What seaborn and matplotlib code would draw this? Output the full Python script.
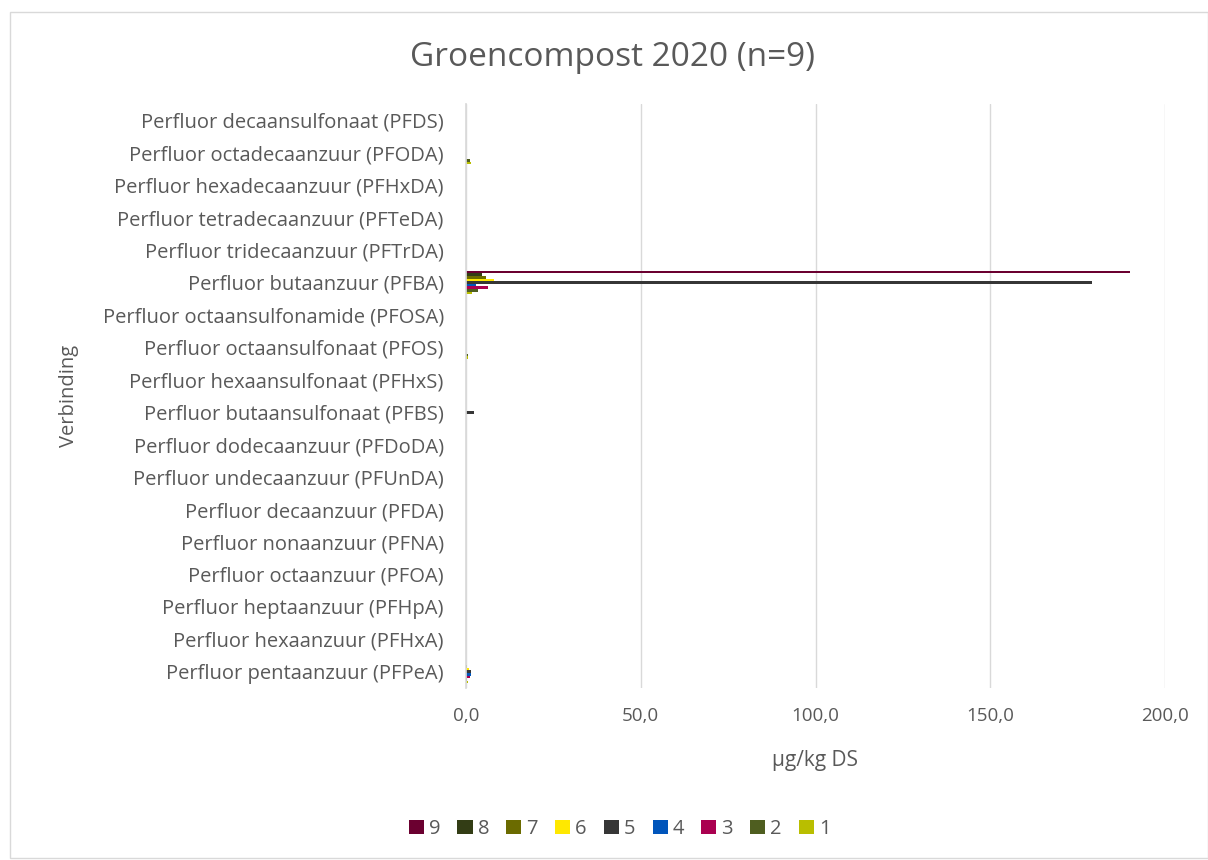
import pandas as pd
import matplotlib.pyplot as plt
import seaborn as sns
from matplotlib.patches import Rectangle

# Compounds, top to bottom as in the chart
verbindingen = [
    'Perfluor decaansulfonaat (PFDS)',
    'Perfluor octadecaanzuur (PFODA)',
    'Perfluor hexadecaanzuur (PFHxDA)',
    'Perfluor tetradecaanzuur (PFTeDA)',
    'Perfluor tridecaanzuur (PFTrDA)',
    'Perfluor butaanzuur (PFBA)',
    'Perfluor octaansulfonamide (PFOSA)',
    'Perfluor octaansulfonaat (PFOS)',
    'Perfluor hexaansulfonaat (PFHxS)',
    'Perfluor butaansulfonaat (PFBS)',
    'Perfluor dodecaanzuur (PFDoDA)',
    'Perfluor undecaanzuur (PFUnDA)',
    'Perfluor decaanzuur (PFDA)',
    'Perfluor nonaanzuur (PFNA)',
    'Perfluor octaanzuur (PFOA)',
    'Perfluor heptaanzuur (PFHpA)',
    'Perfluor hexaanzuur (PFHxA)',
    'Perfluor pentaanzuur (PFPeA)',
]

# Sample values (ug/kg DS), same order as verbindingen
monster_9 = [0, 0, 0, 0, 0, 190.0, 0, 0, 0, 0, 0, 0, 0, 0, 0, 0, 0, 0]
monster_8 = [0, 0, 0, 0, 0, 4.6, 0, 0, 0, 0, 0, 0, 0, 0, 0, 0, 0, 0]
monster_7 = [0, 0, 0, 0, 0, 5.7, 0, 0, 0, 0, 0, 0, 0, 0, 0, 0, 0, 0.3]
monster_6 = [0, 0, 0, 0, 0, 8.0, 0, 0, 0, 0, 0, 0, 0, 0, 0, 0, 0, 0.8]
monster_5 = [0, 0, 0, 0, 0, 179.0, 0, 0, 0, 2.2, 0, 0, 0, 0, 0, 0, 0, 1.5]
monster_4 = [0, 0, 0, 0, 0, 2.8, 0, 0, 0, 0, 0, 0, 0, 0, 0, 0, 0, 1.3]
monster_3 = [0, 0, 0, 0, 0, 6.3, 0, 0, 0, 0, 0, 0, 0, 0, 0, 0, 0, 1.2]
monster_2 = [0, 1.2, 0, 0, 0, 3.5, 0, 0.5, 0, 0, 0, 0, 0, 0, 0, 0, 0, 0.3]
monster_1 = [0, 1.3, 0, 0, 0, 1.8, 0, 0.5, 0, 0, 0, 0, 0, 0, 0, 0, 0, 0.5]

monsters = ['9', '8', '7', '6', '5', '4', '3', '2', '1']
kleuren = ['#6B0030', '#333D15', '#6B6B00', '#FFE800', '#363636',
           '#0055BB', '#AA0050', '#4F5E20', '#B9BE00']

waarden = {'9': monster_9, '8': monster_8, '7': monster_7, '6': monster_6,
           '5': monster_5, '4': monster_4, '3': monster_3, '2': monster_2,
           '1': monster_1}

rows = []
for m in monsters:
    for v, w in zip(verbindingen, waarden[m]):
        rows.append({'Verbinding': v, 'Monster': m, 'Waarde': w})
data = pd.DataFrame(rows)

sns.set_theme(style='white')
plt.rcParams['font.family'] = ['Open Sans', 'DejaVu Sans']
grijs = '#595959'

fig = plt.figure(figsize=(12.08, 8.6), dpi=100)
ax = fig.add_axes([466 / 1208, 1 - 688 / 860, (1165 - 466) / 1208, (688 - 104) / 860])

sns.barplot(data=data, x='Waarde', y='Verbinding', hue='Monster',
            order=verbindingen, hue_order=monsters, palette=kleuren,
            orient='h', width=0.72, saturation=1, linewidth=0, ax=ax, legend=True)

ax.set_xlim(0, 200)
ax.set_xticks([0, 50, 100, 150, 200])
ax.set_xticklabels(['0,0', '50,0', '100,0', '150,0', '200,0'])
ax.grid(axis='x', color='#D9D9D9', linewidth=1)
ax.set_axisbelow(True)
for s in ['top', 'right', 'bottom']:
    ax.spines[s].set_visible(False)
ax.spines['left'].set_color('#D9D9D9')
ax.tick_params(axis='both', length=0, labelcolor=grijs, labelsize=13.5)
ax.tick_params(axis='y', labelsize=14.5, pad=16)
ax.tick_params(axis='x', pad=14)
ax.set_xlabel('µg/kg DS', color=grijs, fontsize=15, labelpad=18)
ax.set_ylabel('Verbinding', color=grijs, fontsize=14.5)
ax.yaxis.set_label_coords(-0.553, 0.5)

fig.suptitle('Groencompost 2020 (n=9)', x=0.507, y=1 - 58 / 860, va='center',
             color=grijs, fontsize=24)

handles, labels = ax.get_legend_handles_labels()
ax.get_legend().remove()
fig.legend(handles, labels, loc='center', bbox_to_anchor=(0.513, 1 - 829 / 860),
           ncol=9, frameon=False, handlelength=0.75, handleheight=0.75,
           handletextpad=0.25, columnspacing=0.85, fontsize=14.5,
           labelcolor=grijs)

fig.patches.append(Rectangle((10 / 1208, 0.002), 1 - 10 / 1208, 1 - 12 / 860 - 0.002,
                             transform=fig.transFigure, fill=False,
                             edgecolor='#D9D9D9', linewidth=1))

fig.savefig('out.png', dpi=100)
